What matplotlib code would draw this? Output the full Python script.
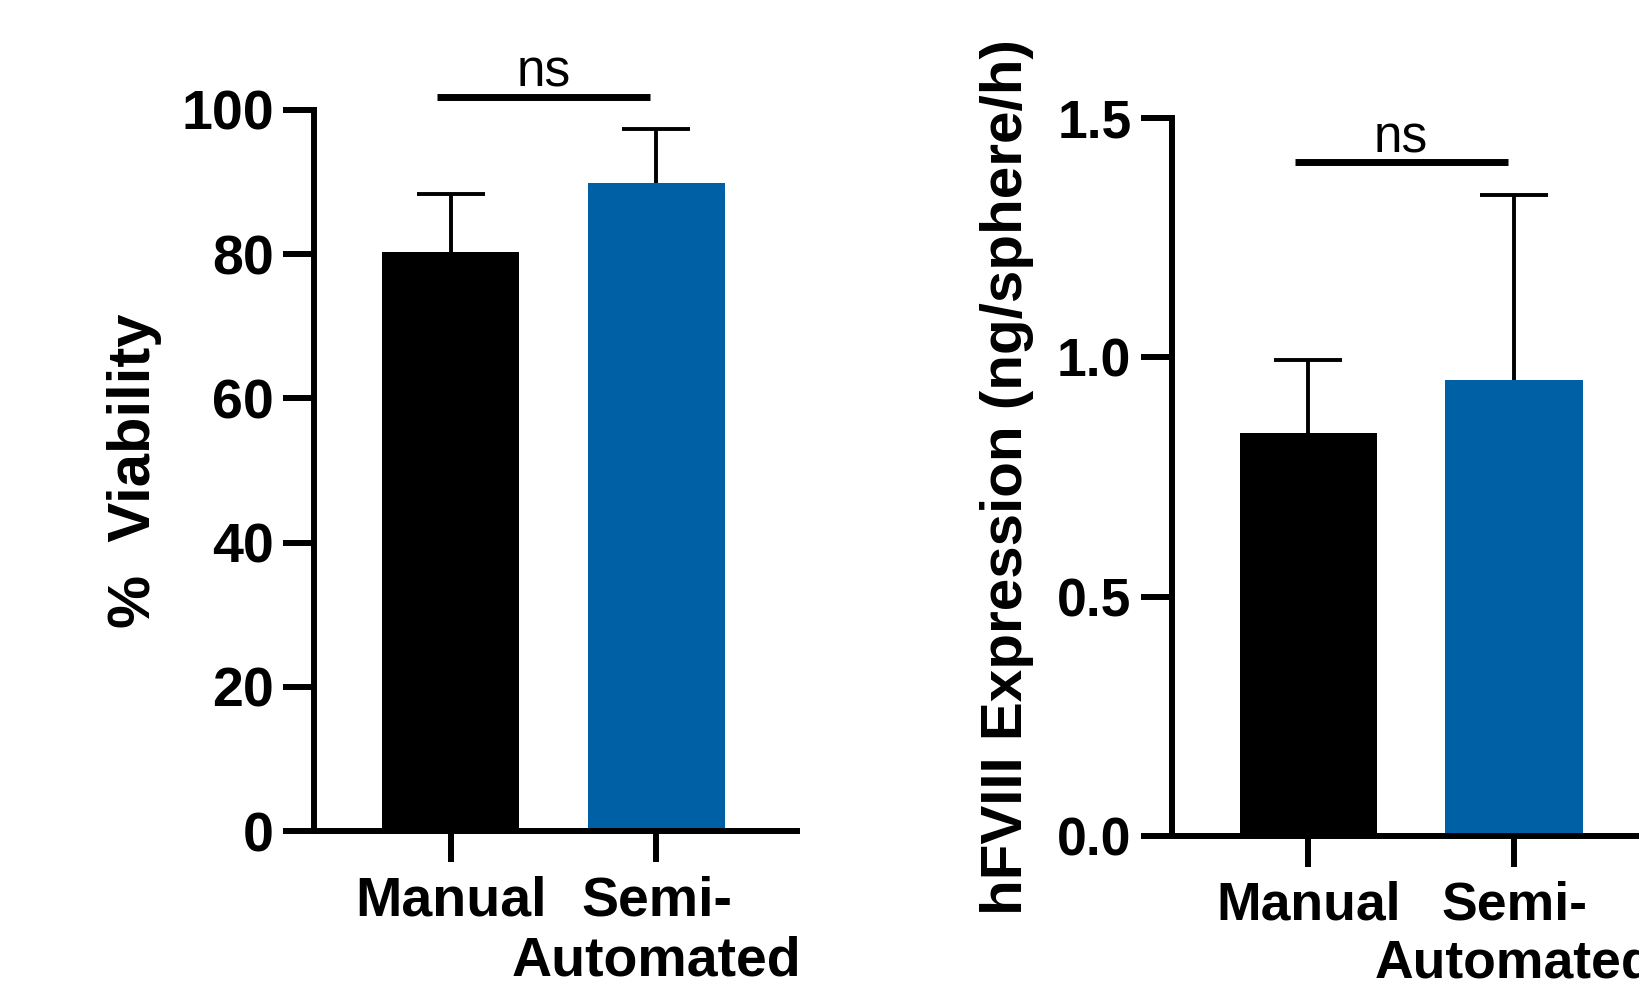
import matplotlib
matplotlib.use("Agg")
import matplotlib.pyplot as plt

plt.rcParams['font.family'] = ['Liberation Sans', 'DejaVu Sans']

groups = ["Manual", "Semi-\nAutomated"]
bar_colors = ["#000000", "#0060A6"]

viability = [80.3, 89.9]
viability_err = [8.0, 7.4]

expression = [0.842, 0.953]
expression_err = [0.152, 0.387]

sig_text = "ns"
sig_left = [101.8, 1.407]


def draw_panel(ax, values, errs, ylim, yticks, yticklabels, ylabel, sig_y,
               tick_fs, label_fs, label_x):
    x = [0, 1]
    ax.bar(x, values, width=0.668, color=bar_colors, zorder=1)
    eb = ax.errorbar(x, values, yerr=[[0, 0], errs], fmt="none", ecolor="black",
                     elinewidth=2.8, capsize=24.5, capthick=2.8, zorder=2)
    # only the upper cap, like the original
    eb[1][0].set_visible(False)
    ax.set_xlim(-0.665, 1.682)
    ax.set_ylim(*ylim)
    ax.set_yticks(yticks)
    ax.set_yticklabels(yticklabels, fontsize=tick_fs, fontweight="bold")
    ax.set_xticks(x)
    ax.set_xticklabels(groups, fontsize=tick_fs, fontweight="bold",
                       linespacing=1.2)
    for s in ["top", "right"]:
        ax.spines[s].set_visible(False)
    for s in ["left", "bottom"]:
        ax.spines[s].set_linewidth(4.3)
    ax.tick_params(axis="both", length=22, width=4.3)
    ax.tick_params(axis="y", pad=7)
    ax.tick_params(axis="x", pad=10)
    ax.set_ylabel(ylabel, fontsize=label_fs, fontweight="bold")
    ax.yaxis.set_label_coords(label_x, 0.5)
    # significance line
    ax.plot([-0.065, 0.97], [sig_y, sig_y], color="black", lw=5,
            clip_on=False, solid_capstyle="butt")
    ax.annotate(sig_text, xy=(0.45, sig_y), xytext=(0, 7.5),
                textcoords="offset points", ha="center", va="baseline",
                fontsize=37, annotation_clip=False)


fig = plt.figure(figsize=(16.39, 9.9), dpi=100)
ax1 = fig.add_axes([0.1916, 0.1606, 0.2945, 0.7283])
ax2 = fig.add_axes([0.7149, 0.1556, 0.2945, 0.7253])

draw_panel(ax1, viability, viability_err, (0, 100), [0, 20, 40, 60, 80, 100],
           ["0", "20", "40", "60", "80", "100"], "%  Viability", sig_left[0],
           40, 43, -0.315)
draw_panel(ax2, expression, expression_err, (0, 1.5), [0, 0.5, 1.0, 1.5],
           ["0.0", "0.5", "1.0", "1.5"], "hFVIII Expression (ng/sphere/h)",
           sig_left[1], 38.5, 42, -0.285)

fig.savefig("out.png", dpi=100)
